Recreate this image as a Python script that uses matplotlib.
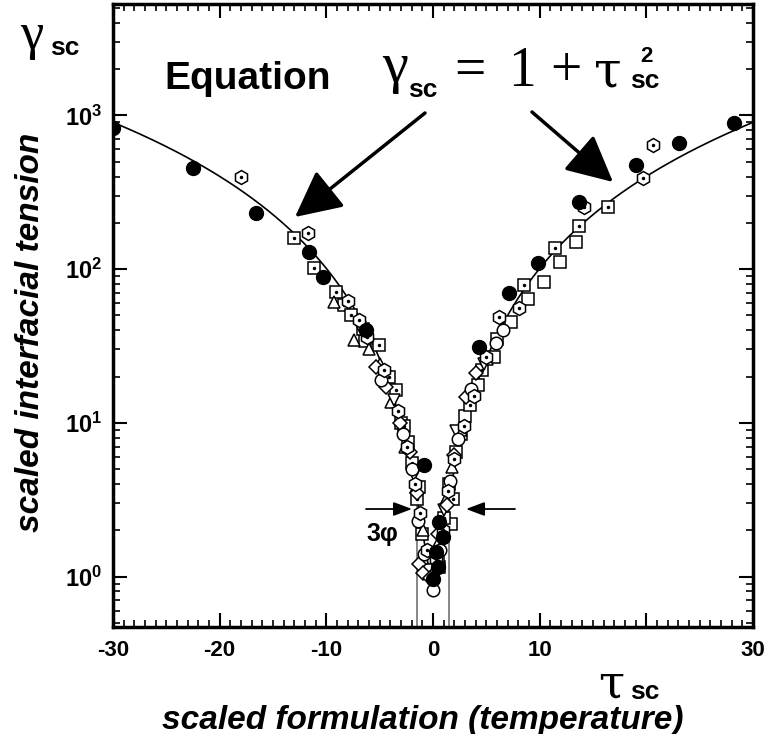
import numpy as np
import matplotlib
matplotlib.use('Agg')
import matplotlib.pyplot as plt
from matplotlib.ticker import LogLocator, NullFormatter, MultipleLocator

plt.rcParams['font.family'] = ['Liberation Sans', 'DejaVu Sans']
plt.rcParams['mathtext.fontset'] = 'custom'
plt.rcParams['mathtext.bf'] = 'Liberation Sans:bold'
plt.rcParams['mathtext.rm'] = 'Liberation Sans:bold'
plt.rcParams['mathtext.default'] = 'bf'
plt.rcParams['axes.unicode_minus'] = False

# ---- data ----
# filled circles
fill_x = [-30, -22.5, -16.6, -11.6, -10.3, -6.3, -0.8, 0.0, 0.3, 0.6, 0.9, 0.5, 4.3, 7.1, 9.8, 13.7, 19.0, 23.1, 28.2]
fill_y = [830, 453, 231, 129, 89, 40, 5.3, 0.96, 1.45, 2.25, 1.8, 1.15, 31, 70, 109, 272, 473, 662, 887]
# open hexagons with a dot
hex_x = [-18.0, -11.7, -8.0, -6.9, -6.2, -4.6, -3.3, -2.4, -1.7, -1.2, -0.6, 0.3, 0.9, 1.4, 2.0, 2.9, 3.8, 5.0, 6.2, 8.1, 14.2, 19.7, 20.6]
hex_y = [396, 171, 62, 47, 36, 22, 12, 7.0, 4.0, 2.6, 1.5, 1.3, 2.0, 3.6, 5.8, 9.5, 15, 27, 49, 56, 252, 390, 638]
# open squares with a dot
sqd_x = [-13.0, -11.2, -9.1, -8.3, -7.7, -6.6, -5.1, -4.1, -3.5, -2.7, -2.0, -1.5, -1.0, 0.5, 1.0, 1.5, 1.9, 2.6, 3.5, 4.6, 6.0, 8.5, 11.4, 13.7, 16.4]
sqd_y = [159, 101, 71, 58, 50, 41, 32, 20, 16.3, 9.5, 5.5, 3.2, 1.9, 1.25, 2.4, 4.0, 3.2, 8.5, 13, 22, 35, 79, 138, 190, 252]
# open squares
sq_x = [13.4, 11.9, 10.4, 8.9, 7.3, 5.7, 4.2, 3.0, 2.2, 1.7, 0.6, -1.3, -2.3, -3.0, -4.5, -6.4]
sq_y = [150, 111, 82, 64, 45, 27, 17.7, 11, 6.5, 2.2, 1.16, 3.8, 7.5, 10, 20, 34]
# open triangles (up)
tri_x = [-9.3, -7.4, -6.0, -5.0, -3.9, -2.6, -1.6, -0.9, 0.4, 1.2, 1.8, 2.6, 3.8, 5.1]
tri_y = [61, 34.5, 30, 24, 13.7, 7, 3.8, 2.0, 1.6, 3.2, 5.2, 9, 16, 26]
# open diamonds
dia_x = [-5.3, -4.4, -3.1, -2.2, -1.5, -1.3, -0.9, -0.3, 0.5, 1.3, 2.0, 3.1, 4.0]
dia_y = [23, 17, 10, 6.5, 3.5, 1.2, 1.06, 0.98, 1.9, 2.9, 6.2, 14.7, 21]
# open circles
cir_x = [-4.9, -2.8, -2.0, -1.4, -0.8, 0.0, 0.7, 1.6, 2.3, 3.6, 5.9, 6.6]
cir_y = [19, 8.4, 5.0, 2.3, 1.4, 0.82, 1.5, 4.2, 7.8, 16.5, 33, 40]
# open triangles (down)
trd_x = [-6.8, -3.7, -1.8, -0.5, 1.0, 2.2, 4.8]
trd_y = [42, 14, 4.6, 1.1, 2.7, 8.8, 24]

x_ticks = [-30, -20, -10, 0, 10, 20, 30]
x_ticklabels = ['-30', '-20', '-10', '0', '10', '', '30']
y_ticks = [1, 10, 100, 1000]
y_ticklabels = ['$10^{0}$', '$10^{1}$', '$10^{2}$', '$10^{3}$']

# equation curve gamma = 1 + tau^2
tau = np.linspace(-30, 30, 601)
gam = 1 + tau ** 2

W, H = 774, 734
fig = plt.figure(figsize=(W / 100, H / 100), dpi=100)
ax = fig.add_axes([113 / W, 1 - 627 / H, 640 / W, 623 / H])

def fx(x):
    return x / W

def fy(y):
    return 1 - y / H

ax.plot(tau, gam, color='k', lw=1.2, zorder=2)

# 3 phase region borders
ax.vlines([-1.5, 1.5], 0.3, 3.0, color='0.45', lw=1.2, zorder=1)

mk = dict(linestyle='none', markeredgecolor='k', markeredgewidth=1.1, zorder=3)
ax.plot(sq_x, sq_y, marker='s', markersize=9, markerfacecolor='white', **mk)
ax.plot(sqd_x, sqd_y, marker='s', markersize=9, markerfacecolor='white', **mk)
ax.plot(sqd_x, sqd_y, marker='.', markersize=3, color='k', linestyle='none', zorder=3)
ax.plot(tri_x, tri_y, marker='^', markersize=8, markerfacecolor='white', **mk)
ax.plot(trd_x, trd_y, marker='v', markersize=8, markerfacecolor='white', **mk)
ax.plot(dia_x, dia_y, marker='D', markersize=7, markerfacecolor='white', **mk)
ax.plot(cir_x, cir_y, marker='o', markersize=9, markerfacecolor='white', **mk)
ax.plot(hex_x, hex_y, marker='h', markersize=10, markerfacecolor='white', **mk)
ax.plot(hex_x, hex_y, marker='.', markersize=3, color='k', linestyle='none', zorder=3)
ax.plot(fill_x, fill_y, marker='o', markersize=10, color='k', linestyle='none', zorder=4)

ax.set_xlim(-30, 30)
ax.set_yscale('log')
ax.set_ylim(0.47, 5300)

ax.set_xticks(x_ticks)
ax.set_xticklabels(x_ticklabels, fontsize=16, fontweight='bold')
ax.xaxis.set_minor_locator(MultipleLocator(1))
ax.set_yticks(y_ticks)
ax.set_yticklabels(y_ticklabels, fontsize=17)
ax.yaxis.set_minor_locator(LogLocator(base=10, subs=np.arange(2, 10)))
ax.yaxis.set_minor_formatter(NullFormatter())
ax.tick_params(which='both', direction='in', top=True, right=True)
ax.tick_params(which='major', length=10, width=1.5)
ax.tick_params(axis='x', which='major', pad=9)
ax.tick_params(axis='y', which='major', pad=8)
ax.tick_params(which='minor', length=5, width=1.2)
for s in ax.spines.values():
    s.set_linewidth(2.5)

# axis titles
fig.text(fx(31), fy(332), 'scaled interfacial tension', rotation=90, fontsize=24,
         fontweight='bold', style='italic', ha='center', va='center')
fig.text(fx(423), fy(720), 'scaled formulation (temperature)', fontsize=24,
         fontweight='bold', style='italic', ha='center', va='center')

serif = ['Liberation Serif', 'DejaVu Serif']
tauf = ['DejaVu Serif']
# gamma_sc at top left
fig.text(fx(20), fy(36), '\u03b3', family=serif, fontsize=38, ha='left', va='center')
fig.text(fx(50), fy(48), 'sc', fontsize=19, fontweight='bold', ha='left', va='center')
# tau_sc near x axis
fig.text(fx(598), fy(697), '\u03c4', family=tauf, fontsize=34, ha='left', va='baseline')
fig.text(fx(630), fy(699), 'sc', fontsize=19, fontweight='bold', ha='left', va='baseline')

# equation
fig.text(fx(164), fy(89), 'Equation', fontsize=28, fontweight='bold', ha='left', va='baseline')
fig.text(fx(382), fy(82), '\u03b3', family=serif, fontsize=42, ha='left', va='baseline')
fig.text(fx(408), fy(97), 'sc', fontsize=19, fontweight='bold', ha='left', va='baseline')
fig.text(fx(454), fy(86), '=', family=serif, fontsize=40, ha='left', va='baseline')
fig.text(fx(508), fy(86), '1', family=serif, fontsize=40, ha='left', va='baseline')
fig.text(fx(550), fy(86), '+', family=serif, fontsize=40, ha='left', va='baseline')
fig.text(fx(594), fy(86), '\u03c4', family=tauf, fontsize=36, ha='left', va='baseline')
fig.text(fx(630), fy(88), 'sc', fontsize=19, fontweight='bold', ha='left', va='baseline')
fig.text(fx(640), fy(62), '2', fontsize=16, fontweight='bold', ha='left', va='baseline')

# arrows to the curve
arr = dict(arrowstyle='-|>,head_length=1.3,head_width=0.65', color='k', lw=2.5,
           mutation_scale=22, shrinkA=0, shrinkB=0)
ax.annotate('', xy=(fx(295), fy(217)), xytext=(fx(425), fy(113)),
            xycoords='figure fraction', textcoords='figure fraction', arrowprops=arr)
ax.annotate('', xy=(fx(613), fy(182)), xytext=(fx(532), fy(112)),
            xycoords='figure fraction', textcoords='figure fraction', arrowprops=arr)

# 3 phase width arrows
sm = dict(arrowstyle='-|>,head_length=0.8,head_width=0.3', color='k', lw=1.3,
          mutation_scale=14, shrinkA=0, shrinkB=0)
ax.annotate('', xy=(fx(412), fy(509)), xytext=(fx(366), fy(509)),
            xycoords='figure fraction', textcoords='figure fraction', arrowprops=sm)
ax.annotate('', xy=(fx(466), fy(509)), xytext=(fx(515), fy(509)),
            xycoords='figure fraction', textcoords='figure fraction', arrowprops=sm)
fig.text(fx(366), fy(534), '3\u03c6', fontsize=18, fontweight='bold', ha='left', va='center')

fig.savefig('out.png', dpi=100)
